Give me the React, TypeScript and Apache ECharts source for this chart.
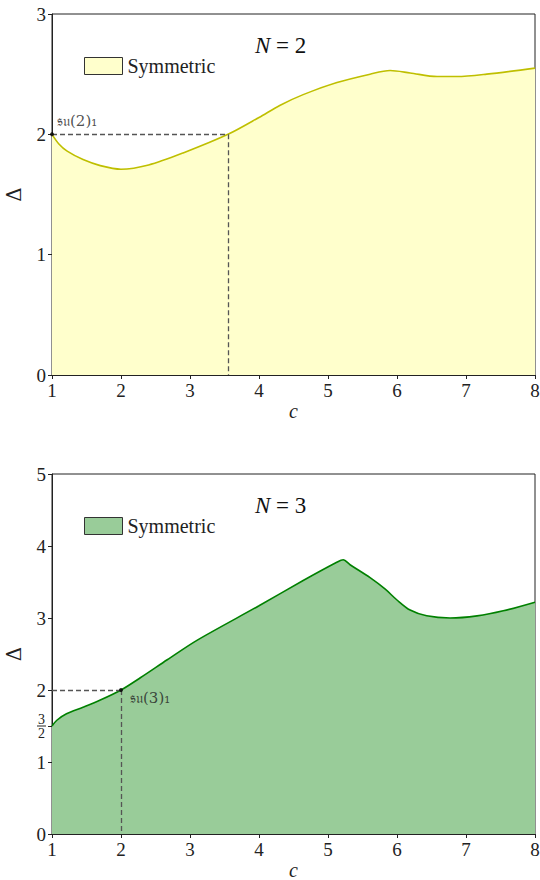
import React, { useEffect, useRef } from "react";
import * as echarts from "echarts";

// N = 2 boundary (Symmetric)
const c2 = [1, 1.1, 1.22, 1.45, 1.7, 2.0, 2.4, 2.9, 3.55, 4.0, 4.3, 4.64, 5.13, 5.61, 5.9, 6.19, 6.58, 6.87, 7.3, 8];
const d2 = [2.0, 1.92, 1.86, 1.79, 1.74, 1.71, 1.745, 1.845, 2.0, 2.14, 2.24, 2.33, 2.43, 2.5, 2.53, 2.51, 2.48, 2.48, 2.5, 2.55];

// N = 3 boundary (Symmetric)
const c3 = [1, 1.07, 1.21, 1.45, 1.7, 2.0, 2.28, 2.67, 3.1, 4.0, 4.64, 5.12, 5.22, 5.32, 5.61, 5.83, 6.0, 6.19, 6.43, 6.77, 7.16, 7.54, 8];
const d3 = [1.5, 1.58, 1.67, 1.76, 1.86, 2.0, 2.17, 2.42, 2.69, 3.17, 3.52, 3.77, 3.81, 3.74, 3.56, 3.4, 3.25, 3.11, 3.03, 3.0, 3.03, 3.1, 3.22];

// special points
const pt2 = { c: 1, d: 2, cross: 3.55, label: "𝔰𝔲(2)₁" };
const pt3 = { c: 2, d: 2, label: "𝔰𝔲(3)₁" };

const xTicks = [1, 2, 3, 4, 5, 6, 7, 8];
const yTicksTop = [0, 1, 2, 3];
const yTicksBottom = [0, 1, 1.5, 2, 3, 4, 5];

const SERIF = "Liberation Serif";
const INK = "#222";

export default function App() {
  const ref = useRef<HTMLDivElement>(null);
  useEffect(() => {
    if (!ref.current) return;
    const chart = echarts.init(ref.current, undefined, { renderer: "svg" });
    const xAxisBase = (gi: number) => ({
      type: "value",
      gridIndex: gi,
      min: xTicks[0],
      max: xTicks[xTicks.length - 1],
      interval: 1,
      name: "c",
      nameLocation: "middle",
      nameGap: 25,
      nameTextStyle: { fontFamily: SERIF, fontStyle: "italic", fontSize: 20, color: INK, lineHeight: 13 },
      axisLine: { show: true, lineStyle: { color: INK, width: 1 } },
      axisTick: { show: true, length: 4, inside: false, lineStyle: { color: INK } },
      axisLabel: { fontFamily: SERIF, fontSize: 19, color: INK, margin: 6 },
      splitLine: { show: false },
    });
    const yAxisBase = (gi: number) => ({
      type: "value",
      gridIndex: gi,
      min: 0,
      name: "Δ",
      nameLocation: "middle",
      nameRotate: 90,
      nameGap: 28,
      nameTextStyle: { fontFamily: "DejaVu Serif", fontSize: 20, color: INK },
      axisLine: { show: true, lineStyle: { color: INK, width: 1 } },
      axisTick: { show: true, length: 4, inside: false, lineStyle: { color: INK } },
      axisLabel: { fontFamily: SERIF, fontSize: 19, color: INK, margin: 6 },
      splitLine: { show: false },
    });
    const dashed = { color: "#555", width: 1.3, type: [5, 3] as any };
    const titleStyle = {
      fontFamily: SERIF,
      fontSize: 23,
      fontWeight: "normal",
      color: "#111",
      rich: { i: { fontFamily: SERIF, fontSize: 23, fontStyle: "italic", color: "#111" } },
    };
    const legendBase = {
      itemWidth: 38,
      itemHeight: 17,
      itemGap: 6,
      padding: 0,
      icon: "rect",
      formatter: () => "Symmetric",
      textStyle: { fontFamily: SERIF, fontSize: 20, color: INK },
      selectedMode: false,
    };
    chart.setOption({
      animation: false,
      backgroundColor: "#fff",
      grid: [
        { left: 52, top: 14, width: 483, height: 361, show: true, borderColor: INK, borderWidth: 1, outerBoundsMode: "none", containLabel: false },
        { left: 52, top: 474, width: 483, height: 360, show: true, borderColor: INK, borderWidth: 1, outerBoundsMode: "none", containLabel: false },
      ],
      title: [
        { text: "{i|N} = 2", left: 255, top: 34, padding: 0, textStyle: titleStyle },
        { text: "{i|N} = 3", left: 255, top: 494, padding: 0, textStyle: titleStyle },
      ],
      legend: [
        {
          ...legendBase,
          left: 84,
          top: 56,
          data: [{ name: "sym2", itemStyle: { color: "#ffffcc", borderColor: "#333", borderWidth: 1 } }],
        },
        {
          ...legendBase,
          left: 84,
          top: 516,
          data: [{ name: "sym3", itemStyle: { color: "#99cc99", borderColor: "#333", borderWidth: 1 } }],
        },
      ],
      xAxis: [xAxisBase(0), xAxisBase(1)],
      yAxis: [
        {
          ...yAxisBase(0),
          max: yTicksTop[yTicksTop.length - 1],
          interval: 1,
        },
        {
          ...yAxisBase(1),
          max: yTicksBottom[yTicksBottom.length - 1],
          axisTick: { show: true, length: 4, inside: false, lineStyle: { color: INK }, customValues: yTicksBottom },
          axisLabel: {
            fontFamily: SERIF,
            fontSize: 19,
            color: INK,
            margin: 6,
            customValues: yTicksBottom,
            formatter: (v: number) => (v === 1.5 ? "{n|3}\n{bar| }\n{n|2}" : String(v)),
            rich: {
              n: { fontFamily: SERIF, fontSize: 14, color: INK, lineHeight: 12, align: "center" },
              bar: { width: 9, height: 1, lineHeight: 2, backgroundColor: INK, fontSize: 1 },
            },
          },
        },
      ],
      series: [
        {
          name: "sym2",
          type: "line",
          xAxisIndex: 0,
          yAxisIndex: 0,
          data: c2.map((c, i) => [c, d2[i]]),
          smooth: 0.3,
          showSymbol: false,
          lineStyle: { color: "#bfbf00", width: 1.6 },
          itemStyle: { color: "#ffffcc" },
          areaStyle: { color: "#ffffcc", opacity: 1 },
          z: 1,
        },
        {
          name: "pt2",
          type: "scatter",
          xAxisIndex: 0,
          yAxisIndex: 0,
          data: [[pt2.c, pt2.d]],
          symbolSize: 4,
          itemStyle: { color: "#000" },
          label: {
            show: true,
            formatter: pt2.label,
            position: "right",
            offset: [-2, -13],
            fontFamily: "DejaVu Serif",
            fontSize: 15,
            color: INK,
          },
          markLine: {
            silent: true,
            symbol: "none",
            label: { show: false },
            lineStyle: dashed,
            data: [
              [{ coord: [pt2.c, pt2.d] }, { coord: [pt2.cross, pt2.d] }],
              [{ coord: [pt2.cross, pt2.d] }, { coord: [pt2.cross, 0] }],
            ],
          },
          z: 5,
        },
        {
          name: "sym3",
          type: "line",
          xAxisIndex: 1,
          yAxisIndex: 1,
          data: c3.map((c, i) => [c, d3[i]]),
          smooth: 0.3,
          showSymbol: false,
          lineStyle: { color: "#008000", width: 1.6 },
          itemStyle: { color: "#99cc99" },
          areaStyle: { color: "#99cc99", opacity: 1 },
          z: 1,
        },
        {
          name: "pt3",
          type: "scatter",
          xAxisIndex: 1,
          yAxisIndex: 1,
          data: [[pt3.c, pt3.d]],
          symbolSize: 4,
          itemStyle: { color: "#000" },
          label: {
            show: true,
            formatter: pt3.label,
            position: "right",
            offset: [2, 8],
            fontFamily: "DejaVu Serif",
            fontSize: 15,
            color: INK,
          },
          markLine: {
            silent: true,
            symbol: "none",
            label: { show: false },
            lineStyle: dashed,
            data: [
              [{ coord: [xTicks[0], pt3.d] }, { coord: [pt3.c, pt3.d] }],
              [{ coord: [pt3.c, pt3.d] }, { coord: [pt3.c, 0] }],
            ],
          },
          z: 5,
        },
      ],
    });
    return () => chart.dispose();
  }, []);
  return (
    <div
      ref={ref}
      style={{ position: "absolute", left: 0, top: 0, width: 540, height: 880, background: "#fff" }}
    />
  );
}
